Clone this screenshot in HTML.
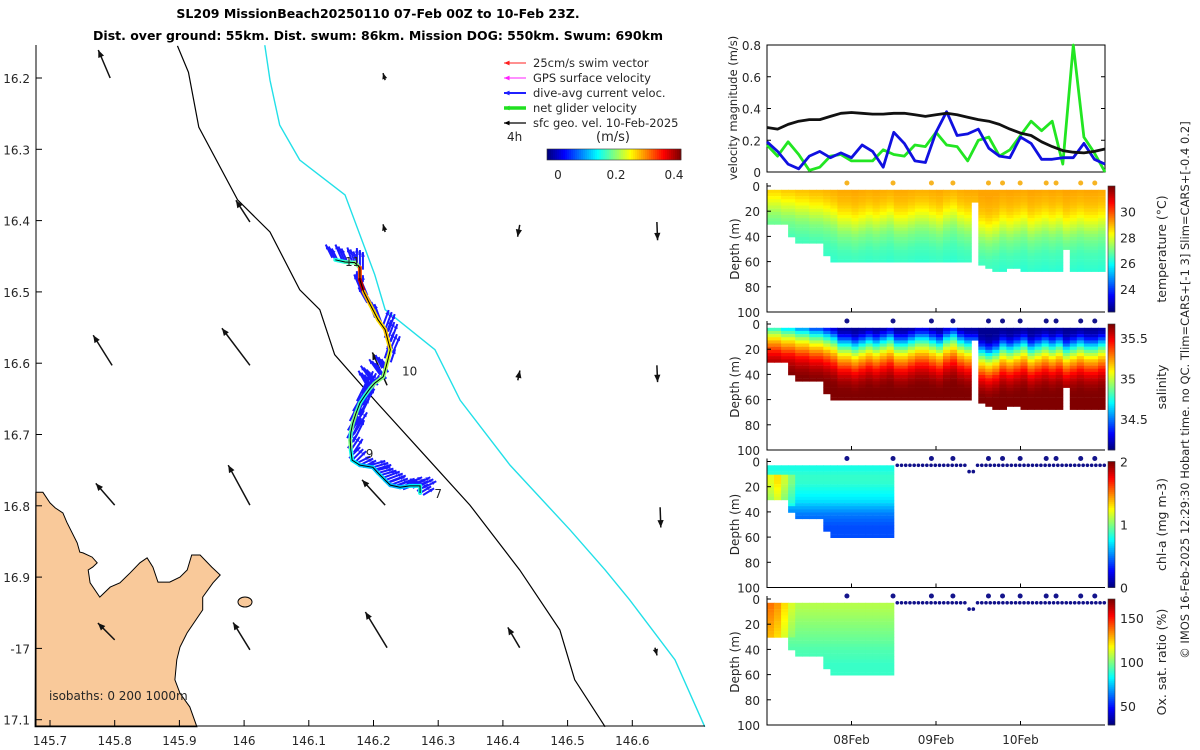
<!DOCTYPE html>
<html><head><meta charset="utf-8"><style>
html,body{margin:0;padding:0;background:#fff;}
svg{display:block;font-family:"DejaVu Sans","Liberation Sans",sans-serif;}
text{fill:#262626;}
</style></head><body>
<svg id="fig" width="1200" height="750" viewBox="0 0 1200 750">
<text x="378" y="18" text-anchor="middle" font-size="12.5" font-weight="bold" style="fill:#000">SL209 MissionBeach20250110 07-Feb 00Z to 10-Feb 23Z.</text>
<text x="378" y="40" text-anchor="middle" font-size="12.5" font-weight="bold" style="fill:#000">Dist. over ground: 55km. Dist. swum: 86km. Mission DOG: 550km. Swum: 690km</text>
<g id="map"></g>
<g id="right"></g>
<text transform="translate(1189,390) rotate(-90)" text-anchor="middle" font-size="11.5">© IMOS 16-Feb-2025 12:29:30 Hobart time. no QC. Tlim=CARS+[-1 3] Slim=CARS+[-0.4 0.2]</text>
</svg>
<script>
// ---------- DATA ----------
const lonTicks=[145.7,145.8,145.9,146,146.1,146.2,146.3,146.4,146.5,146.6];
const lonLabels=["145.7","145.8","145.9","146","146.1","146.2","146.3","146.4","146.5","146.6"];
const latTicks=[16.2,16.3,16.4,16.5,16.6,16.7,16.8,16.9,17,17.1];
const latLabels=["16.2","16.3","16.4","16.5","16.6","16.7","16.8","16.9","-17","17.1"];
const velHours=[0,3,6,9,12,15,18,21,24,27,30,33,36,39,42,45,48,51,54,57,60,63,66,69,72,75,78,81,84,87,90,93,96];
const velBlack=[0.28,0.27,0.30,0.32,0.33,0.33,0.35,0.37,0.375,0.37,0.365,0.365,0.37,0.37,0.36,0.35,0.36,0.37,0.36,0.345,0.33,0.32,0.30,0.27,0.245,0.23,0.19,0.16,0.135,0.125,0.12,0.13,0.145];
const velBlue=[0.19,0.13,0.05,0.02,0.10,0.13,0.09,0.12,0.09,0.17,0.13,0.03,0.25,0.18,0.07,0.06,0.25,0.38,0.23,0.24,0.27,0.15,0.10,0.09,0.22,0.18,0.08,0.08,0.09,0.09,0.18,0.08,0.05];
const velGreen=[0.17,0.10,0.19,0.11,0.01,0.03,0.10,0.11,0.07,0.07,0.07,0.14,0.11,0.10,0.17,0.16,0.25,0.17,0.16,0.07,0.20,0.22,0.10,0.14,0.23,0.32,0.26,0.32,0.05,0.80,0.22,0.12,0.0];
const velTicks=[0,0.2,0.4,0.6,0.8];
const velTickLabels=["0","0.2","0.4","0.6","0.8"];
const depthTicks=[0,20,40,60,80,100];
const dayTicks=[24,48,72];
const dayLabels=["08Feb","09Feb","10Feb"];
// 2-hour bins (48)
const bottomDepth=[30,30,30,40,45,45,45,45,55,60,60,60,60,60,60,60,60,60,60,60,60,60,60,60,60,60,60,60,60,12,62,64,66,66,65,64,66,66,67,67,67,67,50,67,67,67,67,67];
const profShift=[14,14,12,12,10,10,8,8,6,4,0,0,-2,0,2,0,2,4,0,0,2,4,4,2,0,4,6,2,0,0,-6,-8,-6,-2,-4,-2,0,-4,-2,0,-2,0,-4,-2,0,-2,-2,0];
const tempProfile=[29.2,29.1,29.0,28.8,28.5,28.1,27.7,27.3,27.0,26.8,26.6,26.5,26.4,26.3,26.2];
const salProfile=[34.15,34.2,34.4,34.7,34.95,35.15,35.3,35.45,35.55,35.62,35.66,35.67,35.67,35.67,35.67];
const chlProfile=[0.8,0.8,0.85,0.85,0.8,0.75,0.7,0.6,0.5,0.45,0.4,0.4,0.4,0.4,0.4];
const chlBoost=[0.35,0.45,0.3,0.15,0,0,0,0,0,0,0,0,0,0,0,0,0,0];
const oxProfile=[108,107,105,103,101,99,97,95,93,92,90,90,90,90,90];
const oxBoost=[30,25,15,5,0,0,0,0,0,0,0,0,0,0,0,0,0,0];
const surfaceDotHours=[22.7,35.8,46.7,52.8,62.9,66.9,71.9,79.3,82.1,89.1,93.1];
// map data
const coastLon=[145.678,145.689,145.700,145.708,145.720,145.726,145.742,145.746,145.751,145.765,145.773,145.766,145.759,145.762,145.777,145.793,145.808,145.824,145.839,145.850,145.859,145.867,145.885,145.901,145.912,145.919,145.932,145.950,145.963,145.952,145.936,145.936,145.912,145.901,145.896,145.893,145.901,145.916,145.927,145.677];
const coastLat=[16.781,16.781,16.796,16.803,16.810,16.823,16.852,16.865,16.866,16.872,16.880,16.886,16.890,16.908,16.928,16.914,16.908,16.894,16.880,16.873,16.886,16.907,16.907,16.900,16.890,16.869,16.869,16.886,16.897,16.908,16.928,16.946,16.978,16.998,17.016,17.044,17.063,17.082,17.110,17.110];
const iso200Lon=[145.897,145.914,145.930,145.990,146.040,146.086,146.117,146.140,146.202,146.272,146.349,146.426,146.488,146.511,146.558];
const iso200Lat=[16.155,16.192,16.269,16.371,16.416,16.497,16.525,16.588,16.652,16.722,16.799,16.890,16.974,17.044,17.110];
const iso1000Lon=[146.032,146.040,146.055,146.086,146.156,146.202,146.218,146.295,146.334,146.411,146.504,146.558,146.596,146.666,146.712];
const iso1000Lat=[16.154,16.203,16.266,16.315,16.364,16.476,16.525,16.581,16.652,16.743,16.834,16.890,16.932,17.016,17.110];
const trackLon=[146.141,146.156,146.171,146.179,146.179,146.185,146.195,146.207,146.218,146.222,146.226,146.222,146.218,146.215,146.202,146.195,146.187,146.179,146.173,146.168,146.165,146.164,146.165,146.167,146.179,146.199,146.207,146.218,146.226,146.241,146.256,146.272,146.272];
const trackLat=[16.455,16.458,16.459,16.466,16.483,16.500,16.518,16.539,16.553,16.567,16.581,16.596,16.610,16.619,16.628,16.635,16.645,16.656,16.670,16.684,16.697,16.708,16.722,16.736,16.743,16.746,16.754,16.764,16.771,16.774,16.772,16.772,16.782];
const trackSpeed=[0.2,0.22,0.25,0.4,0.47,0.35,0.33,0.33,0.34,0.33,0.3,0.28,0.26,0.25,0.24,0.22,0.2,0.22,0.25,0.24,0.22,0.25,0.2,0.18,0.16,0.16,0.17,0.16,0.15,0.16,0.18,0.2,0.22];
const currU=[-0.03,-0.03,-0.02,0.0,0.0,-0.03,-0.04,-0.03,0.03,0.03,0.03,0.02,-0.03,-0.05,-0.05,-0.04,0.05,0.06,0.07,0.06,0.06,0.05,0.04,0.05,0.06,0.07,0.07,0.08,0.08,0.08,0.07,0.06,0.05];
const currV=[0.06,0.07,0.06,0.08,0.03,0.07,0.07,0.08,0.08,0.08,0.07,0.06,0.06,0.07,0.07,0.07,0.1,0.12,0.12,0.12,0.1,0.1,0.06,0.05,0.03,0.02,0.02,0.03,0.03,0.03,0.03,0.03,0.03];
const geoLon=[145.793,146.009,145.796,146.009,146.221,145.800,146.009,146.218,145.800,146.009,146.221,146.426,146.638,146.638,146.643,146.426,146.218,146.218,146.423,146.635];
const geoLat=[16.200,16.402,16.603,16.603,16.631,16.799,16.799,16.799,16.988,17.002,16.999,16.999,16.402,16.603,16.802,16.406,16.203,16.416,16.624,16.999];
const geoU=[-0.17,-0.2,-0.27,-0.4,-0.21,-0.27,-0.31,-0.33,-0.24,-0.24,-0.31,-0.17,0.01,0.01,0.01,-0.03,-0.03,-0.03,0.03,0.03];
const geoV=[0.40,0.31,0.43,0.53,0.47,0.31,0.57,0.36,0.24,0.39,0.51,0.29,-0.26,-0.24,-0.29,-0.17,0.1,0.11,0.14,-0.11];
const timeLabels=["7","9","10","11"];
const timeLabelLon=[146.294,146.188,146.244,146.156];
const timeLabelLat=[16.789,16.733,16.617,16.464];

// ---------- HELPERS ----------
const NS="http://www.w3.org/2000/svg";
function mk(parent,tag,attrs,txt){const e=document.createElementNS(NS,tag);for(const k in attrs)e.setAttribute(k,attrs[k]);if(txt!==undefined)e.textContent=txt;parent.appendChild(e);return e;}
function jet(t){t=Math.max(0,Math.min(1,t));const c=v=>Math.round(255*Math.max(0,Math.min(1,v)));
 return `rgb(${c(1.5-Math.abs(4*t-3))},${c(1.5-Math.abs(4*t-2))},${c(1.5-Math.abs(4*t-1))})`;}
const MX=lon=>50+(lon-145.7)*647;
const MY=lat=>78+(lat-16.2)*713;
const map=document.getElementById('map');
const right=document.getElementById('right');

// ---------- MAP ----------
let cp=coastLon.map((l,i)=>MX(l).toFixed(1)+','+MY(coastLat[i]).toFixed(1)).join(' ');
let e=mk(map,'polygon',{points:cp,fill:'#f9c99a',stroke:'#000','stroke-width':1});


e=mk(map,'ellipse',{cx:245,cy:602,rx:7,ry:5,fill:'#f9c99a',stroke:'#000','stroke-width':1});


e=mk(map,'polyline',{points:iso200Lon.map((l,i)=>MX(l)+','+MY(iso200Lat[i])).join(' '),fill:'none',stroke:'#000','stroke-width':1.2});


e=mk(map,'polyline',{points:iso1000Lon.map((l,i)=>MX(l)+','+MY(iso1000Lat[i])).join(' '),fill:'none',stroke:'#22e0e8','stroke-width':1.4});


e=mk(map,'path',{d:'M36,45 V726 H705',fill:'none',stroke:'#000','stroke-width':1});


lonTicks.forEach((l,i)=>{const x=MX(l);
 let t=mk(map,'line',{x1:x,x2:x,y1:726,y2:720,stroke:'#000'});
 
 
 t=mk(map,'text',{x:x,y:745,'text-anchor':'middle','font-size':12},lonLabels[i]);
 
 });
latTicks.forEach((l,i)=>{const y=MY(l);
 let t=mk(map,'line',{x1:36,x2:42,y1:y,y2:y,stroke:'#000'});
 
 
 t=mk(map,'text',{x:30,y:y+5,'text-anchor':'end','font-size':12},latLabels[i]);
 
 });
function arrow(g,x1,y1,x2,y2,col,w,hs){const a=Math.atan2(y2-y1,x2-x1);const L=Math.hypot(x2-x1,y2-y1);hs=Math.min(hs,L*0.6+2);
 mk(g,'line',{x1,y1,x2,y2,stroke:col,'stroke-width':w});
 mk(g,'polygon',{points:`${x2},${y2} ${x2-hs*Math.cos(a-0.4)},${y2-hs*Math.sin(a-0.4)} ${x2-hs*Math.cos(a+0.4)},${y2-hs*Math.sin(a+0.4)}`,fill:col});}
geoLon.forEach((l,i)=>{const g=mk(map,'g',{});
 
 
 const x=MX(l),y=MY(geoLat[i]);arrow(g,x,y,x+geoU[i]*70,y-geoV[i]*70,'#111',1.5,8);});
trackLon.forEach((l,i)=>{const x=MX(l),y=MY(trackLat[i]);
 for(let k=0;k<3;k++){const g=mk(map,'g',{});
  
  
  const ox=(k-1)*3,oy=(k-1)*2;arrow(g,x+ox,y+oy,x+ox+currU[i]*220,y+oy-currV[i]*220,'#1a1aff',2,5);}
});
for(let i=0;i<trackLon.length-1;i++){
 e=mk(map,'line',{x1:MX(trackLon[i]),y1:MY(trackLat[i]),x2:MX(trackLon[i+1]),y2:MY(trackLat[i+1]),stroke:jet(trackSpeed[i]/0.5),'stroke-width':4,'stroke-linecap':'round'});
 
 }
e=mk(map,'polyline',{points:trackLon.map((l,i)=>MX(l)+','+MY(trackLat[i])).join(' '),fill:'none',stroke:'#000','stroke-width':1});


timeLabels.forEach((s,i)=>{const t=mk(map,'text',{x:MX(timeLabelLon[i]),y:MY(timeLabelLat[i]),'font-size':12},s);
 
 });
e=mk(map,'text',{x:49,y:700,'font-size':12},'isobaths: 0   200  1000m');


const leg=mk(map,'g',{});


const legItems=[['#ff2020','25cm/s swim vector',1],['#ff20ff','GPS surface velocity',1],['#2020ff','dive-avg current veloc.',2],['#20e020','net glider velocity',3.5],['#000','sfc geo. vel. 10-Feb-2025',1.2]];
legItems.forEach((it,i)=>{const y=63+i*15;const g=mk(leg,'g',{});
 
 
 arrow(g,526,y,504,y,it[0],it[2],6);mk(g,'text',{x:533,y:y+4,'font-size':11.5},it[1]);});
e=mk(leg,'text',{x:507,y:141,'font-size':12},'4h');


e=mk(leg,'text',{x:613,y:141,'font-size':13,'text-anchor':'middle'},'(m/s)');


for(let k=0;k<67;k++){const r=mk(leg,'rect',{x:547+k*2,y:149,width:2.3,height:11,fill:jet(k/66)});
 
 }
mk(leg,'rect',{x:547,y:149,width:134,height:11,fill:'none',stroke:'#333','stroke-width':0.6});
[[0,'0'],[0.2,'0.2'],[0.4,'0.4']].forEach(p=>{const x=547+11+p[0]/0.5*145;
 const t=mk(leg,'text',{x:x,y:179,'font-size':12,'text-anchor':'middle'},p[1]);
 
 });

// ---------- RIGHT PANELS ----------
const X0=767,X1=1105;
const TX=h=>X0+h*(X1-X0)/96;
const VY=v=>172-v*127/0.8;
e=mk(right,'rect',{x:X0,y:45,width:X1-X0,height:127,fill:'none',stroke:'#000','stroke-width':1});


velTicks.forEach((v,i)=>{let t=mk(right,'text',{x:761,y:VY(v)+5,'text-anchor':'end','font-size':12},velTickLabels[i]);
 
 
 t=mk(right,'line',{x1:X0,x2:X0+4,y1:VY(v),y2:VY(v),stroke:'#000'});
 
 
 t=mk(right,'line',{x1:X1,x2:X1-4,y1:VY(v),y2:VY(v),stroke:'#000'});
 
 });
e=mk(right,'text',{transform:'translate(737,108) rotate(-90)','text-anchor':'middle','font-size':11.5},'velocity magnitude (m/s)');


[[velGreen,'#22e622','net-glider-velocity-line'],[velBlue,'#1010e0','dive-avg-current-line'],[velBlack,'#111','geostrophic-velocity-line']].forEach(s=>{
 const p=mk(right,'polyline',{points:velHours.map((h,i)=>TX(h).toFixed(1)+','+VY(s[0][i]).toFixed(1)).join(' '),fill:'none',stroke:s[1],'stroke-width':2.8,'stroke-linejoin':'round'});
 
 });
function prof(arr,d){const idx=Math.max(0,Math.min(arr.length-1,d/5));const i0=Math.floor(idx),i1=Math.min(arr.length-1,i0+1);const f=idx-i0;return arr[i0]*(1-f)+arr[i1]*f;}
function section(top,name,label,cbMin,cbMax,cbTicks,valFn,lastBin,dotCol,extraDots){
 const g=mk(right,'g',{});
 
 
 const DY=d=>top+d*1.26;
 for(let i=0;i<48;i++){ if(i>lastBin)break;
  const x=TX(2*i),w=TX(2*i+2)-x+0.6;
  for(let d=3;d<bottomDepth[i];d+=2.5){
   const v=valFn(i,d);
   const r=mk(g,'rect',{x:x.toFixed(1),y:DY(d).toFixed(1),width:w.toFixed(1),height:3.4,fill:jet((v-cbMin)/(cbMax-cbMin))});
   
   }}
 surfaceDotHours.forEach(h=>{const c=mk(g,'circle',{cx:TX(h),cy:top-3,r:2.5,fill:dotCol});
  
  });
 if(extraDots){for(let h=37;h<96;h+=1.2){const c=mk(g,'circle',{cx:TX(h),cy:DY(h>57&&h<59?8:3),r:1.8,fill:'#10108a'});
  
  }}
 e=mk(g,'path',{d:`M${X0},${top-3} V${top+126} H${X1}`,fill:'none',stroke:'#000'});
 
 
 depthTicks.forEach(d=>{let t=mk(g,'text',{x:760,y:DY(d)+5,'text-anchor':'end','font-size':12},String(d));
  
  
  t=mk(g,'line',{x1:X0,x2:X0+4,y1:DY(d),y2:DY(d),stroke:'#000'});
  
  });
 dayTicks.forEach(h=>{const t=mk(g,'line',{x1:TX(h),x2:TX(h),y1:top+126,y2:top+122,stroke:'#000'});
  
  });
 e=mk(g,'text',{transform:`translate(739,${top+63}) rotate(-90)`,'text-anchor':'middle','font-size':12},'Depth (m)');
 
 
 for(let k=0;k<63;k++){const r=mk(g,'rect',{x:1108,y:top+126-(k+1)*2,width:7,height:2.3,fill:jet(k/62)});
  
  }
 mk(g,'rect',{x:1108,y:top,width:7,height:126,fill:'none',stroke:'#333','stroke-width':0.6});
 cbTicks.forEach(v=>{const y=top+126-(v-cbMin)/(cbMax-cbMin)*126;
  const t=mk(g,'text',{x:1120,y:y+5,'font-size':12.5},String(v));
  
  });
 e=mk(g,'text',{transform:`translate(1166,${top+63}) rotate(-90)`,'text-anchor':'middle','font-size':12.5},label);
 
 
}
section(186,'temperature','temperature (°C)',22.2,32.0,[24,26,28,30],(i,d)=>prof(tempProfile,d+profShift[i]),47,'#f7b422',false);
section(324,'salinity','salinity',34.12,35.67,[34.5,35,35.5],(i,d)=>prof(salProfile,d+profShift[i]),47,'#14148c',false);
section(461.5,'chlorophyll','chl-a (mg m-3)',0,2,[0,1,2],(i,d)=>prof(chlProfile,d)+(d>8&&d<35?chlBoost[i]:0),17,'#14148c',true);
section(599,'oxygen','Ox. sat. ratio (%)',28.4,171.6,[50,100,150],(i,d)=>prof(oxProfile,d)+(d<30?oxBoost[i]:0),17,'#14148c',true);
dayTicks.forEach((h,i)=>{const t=mk(right,'text',{x:TX(h),y:744,'text-anchor':'middle','font-size':12},dayLabels[i]);
 
 });
</script>
</body></html>
